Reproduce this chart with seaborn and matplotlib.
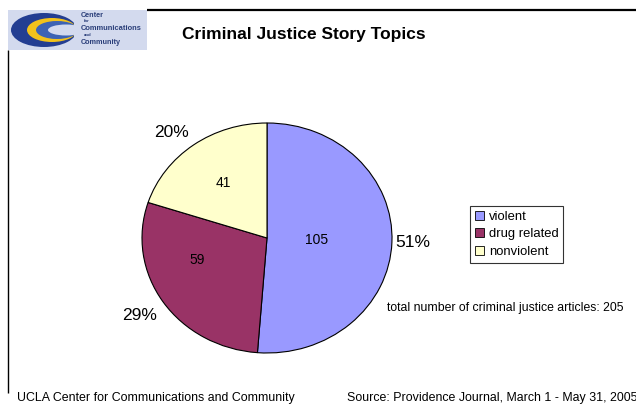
import matplotlib
matplotlib.use("Agg")
import matplotlib.pyplot as plt
from matplotlib.patches import Rectangle, Ellipse
import seaborn as sns

# Story counts by topic
categories = ["violent", "drug related", "nonviolent"]
counts = [105, 59, 41]
total_articles = 205
colors = ["#9999FF", "#993366", "#FFFFCC"]

title = "Criminal Justice Story Topics"
footer_left = "UCLA Center for Communications and Community"
footer_right = "Source: Providence Journal, March 1 - May 31, 2005"
total_note = f"total number of criminal justice articles: {total_articles}"

sns.set_style("white")
plt.rcParams["font.family"] = ["Liberation Sans", "DejaVu Sans"]
plt.rcParams["text.color"] = "black"

W, H = 636, 413
fig = plt.figure(figsize=(W / 100, H / 100), dpi=100)
fig.patch.set_facecolor("white")

# Page layer in pixel coordinates
bg = fig.add_axes([0, 0, 1, 1])
bg.set_xlim(0, W)
bg.set_ylim(H, 0)
bg.axis("off")

# Header rule and left rule
bg.plot([147, W], [10, 10], color="black", lw=1.6, solid_capstyle="butt")
bg.plot([8, 8], [50, 393], color="black", lw=1.0, solid_capstyle="butt")

# Logo block
bg.add_patch(Rectangle((8, 10), 139, 40, facecolor="#D3DAEE", edgecolor="none"))
bg.add_patch(Ellipse((44, 30), 66, 34, facecolor="#233E92", edgecolor="none"))
bg.add_patch(Ellipse((52, 30), 50, 24, facecolor="#F2C21B", edgecolor="none"))
bg.add_patch(Ellipse((57, 30), 42, 18, facecolor="#3D63B4", edgecolor="none"))
bg.add_patch(Ellipse((66, 30), 36, 11, facecolor="#D3DAEE", edgecolor="none"))
bg.add_patch(Rectangle((74, 10), 6, 40, facecolor="#D3DAEE", edgecolor="none"))
logo_lines = [("Center", 15.5, 5.2), ("for", 21.5, 3.2), ("Communications", 28.5, 5.4),
              ("and", 35, 3.2), ("Community", 42, 5.2)]
for txt, yy, fs in logo_lines:
    bg.text(81 if fs > 4 else 84, yy, txt, fontsize=fs, fontweight="bold",
            color="#2B3F7A", va="center", ha="left")

bg.text(304, 35, title, fontsize=12.5, fontweight="bold", ha="center", va="center")
bg.text(17, 398, footer_left, fontsize=8.9, ha="left", va="center")
bg.text(347, 398, footer_right, fontsize=8.9, ha="left", va="center")
bg.text(387, 308, total_note, fontsize=8.8, ha="left", va="center")

# Pie, stretched slightly wider than tall
cx, cy, rx, ry = 267, 238, 125, 115
ax = fig.add_axes([(cx - rx) / W, (H - cy - ry) / H, 2 * rx / W, 2 * ry / H])
pct_labels = [f"{round(100 * c / total_articles)}%" for c in counts]
wedges, texts, autotexts = ax.pie(
    counts, colors=colors, startangle=90, counterclock=False,
    labels=pct_labels, labeldistance=1.1,
    autopct=lambda p: f"{round(p * sum(counts) / 100)}", pctdistance=0.5,
    wedgeprops=dict(edgecolor="black", linewidth=0.8),
    textprops=dict(fontsize=12.5, color="black"), radius=1, frame=False,
)
ax.set_aspect("auto")
ax.set_xlim(-1, 1)
ax.set_ylim(-1, 1)
ax.axis("off")
for t in autotexts:
    t.set_fontsize(10)

# Label placement around the wedges
outer_pos = [(1.17, -0.04), (-1.02, -0.67), (-0.76, 0.92)]
inner_pos = [(0.40, -0.02), (-0.56, -0.19), (-0.35, 0.48)]
for t, p in zip(texts, outer_pos):
    t.set_position(p)
    t.set_ha("center")
    t.set_va("center")
for t, p in zip(autotexts, inner_pos):
    t.set_position(p)
    t.set_ha("center")
    t.set_va("center")

leg = fig.legend(wedges, categories, loc="upper left",
                 bbox_to_anchor=(470 / W, 1 - 206 / H), frameon=True,
                 fancybox=False, edgecolor="black", fontsize=9.4,
                 handlelength=0.7, handleheight=0.7, handletextpad=0.4,
                 borderpad=0.35, labelspacing=0.42, borderaxespad=0)
leg.get_frame().set_linewidth(0.8)
for t in leg.get_texts():
    t.set_color("black")
for h in leg.legend_handles:
    h.set_edgecolor("black")
    h.set_linewidth(0.6)

fig.savefig("out.png", dpi=100)
